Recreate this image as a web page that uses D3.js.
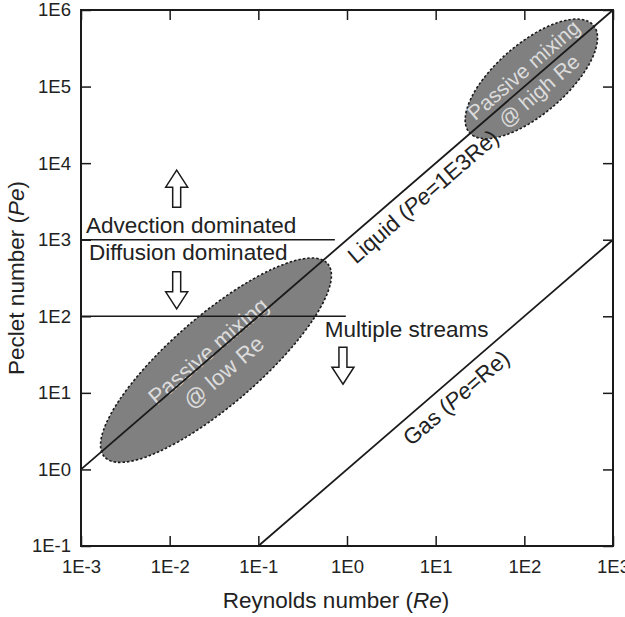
<!DOCTYPE html>
<html>
<head>
<meta charset="utf-8">
<script src="https://cdn.jsdelivr.net/npm/d3@7"></script>
<style>
  body { margin: 0; background: #fff; }
  #graf { width: 625px; height: 617px; }
  text { font-family: "Liberation Sans", Arial, sans-serif; }
</style>
</head>
<body>
<div id="graf"></div>
<script>
// -- Datos --
const xTicks = [1e-3, 1e-2, 1e-1, 1e0, 1e1, 1e2, 1e3]
const xTickLabels = ['1E-3', '1E-2', '1E-1', '1E0', '1E1', '1E2', '1E3']
const yTicks = [1e-1, 1e0, 1e1, 1e2, 1e3, 1e4, 1e5, 1e6]
const yTickLabels = ['1E-1', '1E0', '1E1', '1E2', '1E3', '1E4', '1E5', '1E6']

// rectas Pe = k*Re  [Re inicio, Re fin, k]
const liquid = [[1e-3, 1e3, 1e3]]
const gas = [[1e-1, 1e3, 1]]

// limites horizontales [Pe, Re inicio, Re fin]
const regimeLines = [[1e3, 1e-3, 0.73], [1e2, 1e-3, 0.97]]

// zonas de mezcla pasiva: centro (Re, Pe), semiejes en decadas
const mixNames = ['low', 'high']
const mixCenterRe = [0.0333, 120]
const mixCenterPe = [26.7, 1.26e5]
const mixMajor = [1.26, 0.70]
const mixMinor = [0.38, 0.30]
const mixLine1 = ['Passive mixing', 'Passive mixing']
const mixLine2 = ['@ low Re', '@ high Re']

// textos sueltos [texto, Re, Pe]
const notes = [['Advection dominated', 1.14e-3, 1230],
               ['Diffusion dominated', 1.23e-3, 549],
               ['Multiple streams', 0.56, 53]]

// flechas huecas [Re, Pe centro, direccion]
const arrows = [[0.012, 4640, 'up'], [0.012, 218, 'down'], [0.9, 22.6, 'down']]

// -- Canvas --
const ancho_total = 625, alto_total = 617
const margins = {top: 10, left: 81, right: 12, bottom: 71}
const ancho = ancho_total - margins.left - margins.right
const alto = alto_total - margins.top - margins.bottom

const svg = d3.select('#graf').append('svg')
    .attr('width', ancho_total)
    .attr('height', alto_total)

const g = svg.append('g')
    .attr('transform', `translate(${margins.left}, ${margins.top})`)

// -- Escaladores --
const x = d3.scaleLog().domain([1e-3, 1e3]).range([0, ancho])
const y = d3.scaleLog().domain([1e-1, 1e6]).range([alto, 0])

const ink = '#1a1a1a'
const txt = '#222'
const fs = '22.5px'

// angulo de la diagonal (una decada en cada eje)
const dxDec = x(10) - x(1), dyDec = y(1) - y(10)
const angle = -Math.atan2(dyDec, dxDec) * 180 / Math.PI
const decPx = Math.hypot(dxDec, dyDec)

// -- Elipses --
const mix = g.selectAll('g.mix')
    .data(mixNames.map((n, i) => ({n, re: mixCenterRe[i], pe: mixCenterPe[i],
        a: mixMajor[i], b: mixMinor[i], l1: mixLine1[i], l2: mixLine2[i]})))
    .enter().append('g')
    .attr('class', 'mix')
    .attr('transform', d => `translate(${x(d.re)}, ${y(d.pe)}) rotate(${angle})`)

mix.append('ellipse')
    .attr('rx', d => d.a * decPx)
    .attr('ry', d => d.b * decPx)
    .style('fill', '#808080')
    .style('stroke', ink)
    .style('stroke-width', 1.6)
    .style('stroke-dasharray', '2.5,2')

// -- Rectas --
const lineas = liquid.concat(gas)
g.selectAll('line.diag')
    .data(lineas)
    .enter().append('line')
    .attr('class', 'diag')
    .attr('x1', d => x(d[0])).attr('y1', d => y(d[0] * d[2]))
    .attr('x2', d => x(d[1])).attr('y2', d => y(d[1] * d[2]))
    .style('stroke', ink)
    .style('stroke-width', 1.8)

g.selectAll('line.regime')
    .data(regimeLines)
    .enter().append('line')
    .attr('class', 'regime')
    .attr('x1', d => x(d[1])).attr('x2', d => x(d[2]))
    .attr('y1', d => y(d[0])).attr('y2', d => y(d[0]))
    .style('stroke', ink)
    .style('stroke-width', 1.5)

// textos de elipses
mix.append('text')
    .attr('x', 0).attr('y', -12)
    .attr('dy', '0.35em')
    .attr('text-anchor', 'middle')
    .style('font-size', d => d.n === 'low' ? '22.5px' : '21px')
    .style('fill', '#dcdcdc')
    .text(d => d.l1)
mix.append('text')
    .attr('x', -2).attr('y', 14)
    .attr('dy', '0.35em')
    .attr('text-anchor', 'middle')
    .style('font-size', d => d.n === 'low' ? '22.5px' : '21px')
    .style('fill', '#dcdcdc')
    .text(d => d.l2)

// etiquetas de las rectas
function lineLabel(re, k, name, tail) {
    const t = g.append('text')
        .attr('transform', `translate(${x(re)}, ${y(re * k)}) rotate(${angle})`)
        .attr('y', 17)
        .attr('dy', '0.35em')
        .attr('text-anchor', 'middle')
        .style('font-size', fs)
        .style('fill', txt)
    t.append('tspan').text(name + ' (')
    t.append('tspan').style('font-style', 'italic').text('Pe')
    t.append('tspan').text(tail)
}
lineLabel(5.4, liquid[0][2], 'Liquid', '=1E3Re)')
lineLabel(12.7, gas[0][2], 'Gas', '=Re)')

// notas
g.selectAll('text.note')
    .data(notes)
    .enter().append('text')
    .attr('class', 'note')
    .attr('x', d => x(d[1]))
    .attr('y', d => y(d[2]))
    .style('font-size', fs)
    .style('fill', txt)
    .text(d => d[0])

// flechas
function arrowPath(dir) {
    const L = 37, hw = 11, sw = 4, hl = 17
    const s = dir === 'up' ? 1 : -1
    const pts = [[0, -L / 2], [hw, -L / 2 + hl], [sw, -L / 2 + hl], [sw, L / 2],
                 [-sw, L / 2], [-sw, -L / 2 + hl], [-hw, -L / 2 + hl]]
    return d3.line()(pts.map(p => [p[0], p[1] * s])) + 'Z'
}
g.selectAll('path.arrow')
    .data(arrows)
    .enter().append('path')
    .attr('class', 'arrow')
    .attr('transform', d => `translate(${x(d[0])}, ${y(d[1])})`)
    .attr('d', d => arrowPath(d[2]))
    .style('fill', '#fff')
    .style('stroke', ink)
    .style('stroke-width', 1.5)

// -- Ejes --
const fmtX = d => xTickLabels[xTicks.indexOf(d)]
const fmtY = d => yTickLabels[yTicks.indexOf(d)]

const xAx = g.append('g').attr('transform', `translate(0, ${alto})`)
    .call(d3.axisBottom(x).tickValues(xTicks).tickFormat(fmtX).tickSize(-10).tickPadding(14))
const yAx = g.append('g')
    .call(d3.axisLeft(y).tickValues(yTicks).tickFormat(fmtY).tickSize(-10).tickPadding(10))
const xTop = g.append('g')
    .call(d3.axisTop(x).tickValues(xTicks).tickFormat('').tickSize(-10))
const yRight = g.append('g').attr('transform', `translate(${ancho}, 0)`)
    .call(d3.axisRight(y).tickValues(yTicks).tickFormat('').tickSize(-10))

;[xAx, yAx, xTop, yRight].forEach(ax => {
    ax.select('.domain').remove()
    ax.selectAll('line').style('stroke', ink).style('stroke-width', 1.5)
    ax.selectAll('text')
      .style('font-family', '"Liberation Sans", Arial, sans-serif')
      .style('font-size', '18.5px')
      .style('fill', txt)
})

g.append('rect')
    .attr('width', ancho).attr('height', alto)
    .style('fill', 'none')
    .style('stroke', ink)
    .style('stroke-width', 2)

// titulos
const xt = svg.append('text')
    .attr('x', 336).attr('y', 608)
    .attr('text-anchor', 'middle')
    .style('font-size', fs)
    .style('fill', txt)
xt.append('tspan').text('Reynolds number (')
xt.append('tspan').style('font-style', 'italic').text('Re')
xt.append('tspan').text(')')

const yt = svg.append('text')
    .attr('transform', `translate(24, ${margins.top + alto / 2}) rotate(-90)`)
    .attr('text-anchor', 'middle')
    .style('font-size', fs)
    .style('fill', txt)
yt.append('tspan').text('Peclet number (')
yt.append('tspan').style('font-style', 'italic').text('Pe')
yt.append('tspan').text(')')
</script>
</body>
</html>
